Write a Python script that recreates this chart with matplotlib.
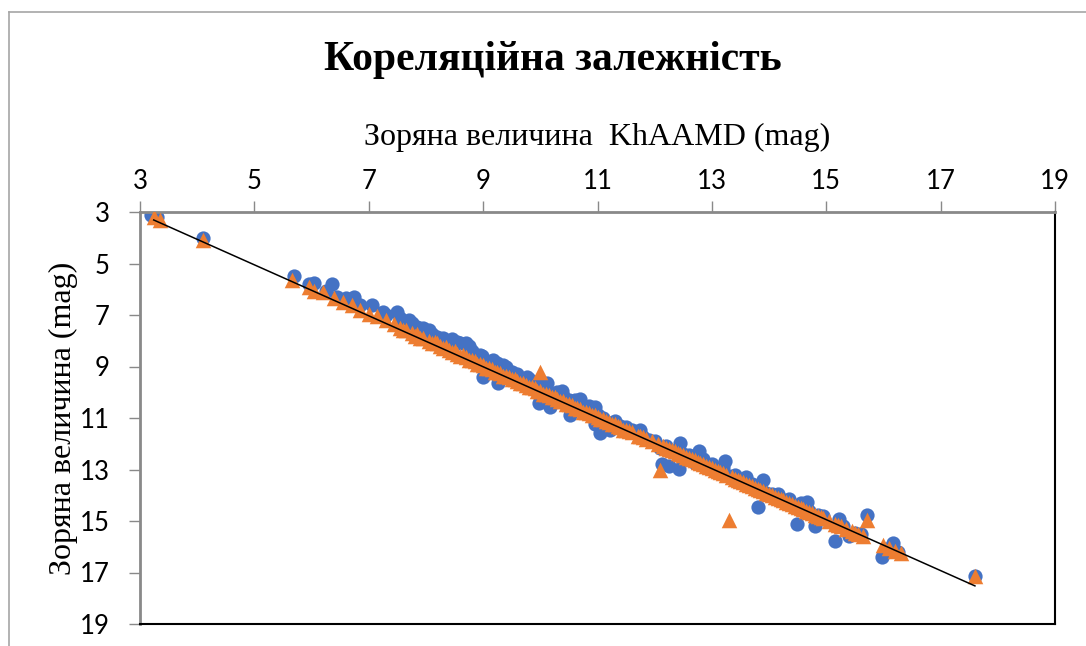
import matplotlib.pyplot as plt
from matplotlib.lines import Line2D

# blue circles (first series)
blue_x = [3.2, 3.3, 4.1, 5.7, 5.95, 6.05, 6.35, 6.25, 6.45, 6.6, 6.75, 6.85, 7.05, 7.25,
          7.3, 7.5, 7.55, 7.7, 7.75, 7.85, 7.95, 8.05, 8.1, 8.2, 8.3, 8.4, 8.45, 8.47, 8.55,
          8.6, 8.7, 8.75, 8.8, 8.85, 8.95, 8.98, 9.0, 9.0, 9.05, 9.1, 9.15, 9.17, 9.2, 9.25,
          9.26, 9.3, 9.35, 9.35, 9.4, 9.5, 9.55, 9.6, 9.7, 9.75, 9.77, 9.8, 9.9, 9.94, 9.95,
          9.98, 10.05, 10.1, 10.12, 10.17, 10.2, 10.3, 10.38, 10.4, 10.5, 10.52, 10.55, 10.6,
          10.69, 10.7, 10.8, 10.85, 10.95, 10.96, 10.96, 11.0, 11.04, 11.1, 11.2, 11.22, 11.3,
          11.4, 11.5, 11.6, 11.7, 11.74, 11.8, 11.9, 12.0, 12.13, 12.25, 12.42, 12.1, 12.2,
          12.3, 12.44, 12.5, 12.6, 12.7, 12.77, 12.85, 12.9, 13.0, 13.1, 13.2, 13.23, 13.3,
          13.4, 13.5, 13.6, 13.7, 13.8, 13.85, 13.89, 13.95, 14.05, 14.15, 14.25, 14.35,
          14.49, 14.45, 14.55, 14.66, 14.7, 14.8, 14.85, 14.95, 15.15, 15.22, 15.3, 15.4,
          15.5, 15.6, 15.71, 15.97, 16.05, 16.17, 16.25, 17.6]
blue_y = [3.1, 3.2, 4.0, 5.5, 5.8, 5.75, 5.8, 6.05, 6.3, 6.35, 6.3, 6.6, 6.6, 6.9,
          7.0, 6.9, 7.1, 7.2, 7.3, 7.45, 7.5, 7.6, 7.75, 7.85, 7.9, 8.0, 7.95, 8.09, 8.05,
          8.1, 8.1, 8.2, 8.4, 8.6, 8.55, 8.59, 8.7, 9.4, 8.9, 9.2, 8.8, 8.75, 9.0, 8.85,
          9.64, 9.1, 9.35, 8.94, 9.0, 9.2, 9.55, 9.3, 9.5, 9.65, 9.41, 9.5, 9.75, 9.6, 9.6,
          10.42, 10.1, 9.9, 9.64, 10.57, 10.3, 10.0, 9.95, 10.15, 10.3, 10.88, 10.6, 10.3,
          10.26, 10.5, 10.65, 10.55, 10.75, 10.57, 11.23, 10.9, 11.58, 11.0, 11.2, 11.47, 11.1,
          11.3, 11.35, 11.45, 11.6, 11.47, 11.75, 11.85, 11.9, 12.79, 12.86, 12.98, 12.15, 12.1,
          12.3, 11.97, 12.4, 12.45, 12.75, 12.28, 12.6, 12.9, 12.8, 13.05, 12.9, 12.67, 13.25,
          13.2, 13.5, 13.3, 13.55, 14.46, 13.65, 13.41, 13.9, 13.95, 13.95, 14.2, 14.15,
          15.12, 14.45, 14.3, 14.26, 14.6, 15.2, 14.75, 14.8, 15.78, 14.92, 15.2, 15.6,
          15.45, 15.5, 14.77, 16.4, 16.1, 15.86, 16.2, 17.15]

# orange triangles (second series)
orange_x = [3.25, 3.35, 4.1, 5.65, 5.95, 6.05, 6.2, 6.4, 6.55, 6.7, 6.85, 7.0, 7.15, 7.3,
            7.45, 7.55, 7.6, 7.65, 7.75, 7.8, 7.85, 7.9, 7.95, 8.05, 8.1, 8.15, 8.2, 8.25,
            8.3, 8.35, 8.4, 8.45, 8.5, 8.55, 8.6, 8.65, 8.7, 8.75, 8.8, 8.85, 8.9, 8.95, 9.0,
            9.05, 9.1, 9.15, 9.2, 9.25, 9.3, 9.35, 9.4, 9.45, 9.5, 9.55, 9.6, 9.65, 9.7, 9.75,
            9.8, 9.85, 9.9, 9.95, 9.99, 10.0, 10.05, 10.1, 10.15, 10.2, 10.25, 10.3, 10.35,
            10.4, 10.45, 10.5, 10.55, 10.6, 10.65, 10.7, 10.75, 10.8, 10.85, 10.9, 10.95,
            11.0, 11.05, 11.1, 11.15, 11.2, 11.25, 11.3, 11.35, 11.4, 11.45, 11.5, 11.55,
            11.6, 11.7, 11.75, 11.8, 11.85, 11.95, 12.05, 12.09, 12.15, 12.2, 12.25, 12.3,
            12.35, 12.4, 12.45, 12.5, 12.55, 12.6, 12.65, 12.7, 12.75, 12.8, 12.85, 12.9,
            12.95, 13.0, 13.05, 13.1, 13.15, 13.2, 13.25, 13.3, 13.35, 13.4, 13.45, 13.5,
            13.55, 13.6, 13.65, 13.7, 13.75, 13.8, 13.85, 13.9, 13.95, 14.0, 14.05, 14.1,
            14.15, 14.2, 14.25, 14.3, 14.35, 14.4, 14.45, 14.5, 14.55, 14.6, 14.65, 14.7,
            14.75, 14.8, 14.85, 14.9, 14.95, 15.05, 15.15, 15.2, 15.25, 15.35, 15.45, 15.5,
            15.55, 15.65, 15.71, 16.0, 16.1, 16.2, 16.3, 17.6]
orange_y = [3.2, 3.3, 4.1, 5.65, 5.9, 6.05, 6.1, 6.35, 6.5, 6.6, 6.8, 6.95, 7.05, 7.2,
            7.35, 7.5, 7.6, 7.6, 7.7, 7.8, 7.75, 7.9, 7.9, 8.0, 8.1, 8.05, 8.1, 8.2,
            8.3, 8.25, 8.35, 8.45, 8.4, 8.5, 8.6, 8.55, 8.65, 8.75, 8.75, 8.8, 8.9, 8.9, 8.95,
            9.05, 9.05, 9.1, 9.2, 9.2, 9.25, 9.35, 9.35, 9.4, 9.5, 9.5, 9.55, 9.65, 9.65, 9.7,
            9.8, 9.8, 9.85, 9.95, 9.21, 9.95, 10.05, 10.05, 10.1, 10.2, 10.2, 10.25, 10.35,
            10.35, 10.45, 10.45, 10.5, 10.6, 10.6, 10.65, 10.75, 10.75, 10.8, 10.9, 10.9,
            10.95, 11.05, 11.05, 11.1, 11.15, 11.25, 11.25, 11.3, 11.35, 11.45, 11.45, 11.5,
            11.55, 11.7, 11.7, 11.75, 11.8, 11.9, 12.0, 13.02, 12.1, 12.15, 12.2, 12.25,
            12.3, 12.35, 12.4, 12.45, 12.5, 12.55, 12.6, 12.65, 12.7, 12.75, 12.8, 12.85,
            12.9, 12.95, 13.0, 13.05, 13.1, 13.15, 13.2, 14.96, 13.3, 13.35, 13.4, 13.45,
            13.5, 13.55, 13.6, 13.65, 13.7, 13.75, 13.8, 13.85, 13.9, 13.95, 14.0, 14.05,
            14.1, 14.15, 14.2, 14.25, 14.3, 14.35, 14.4, 14.45, 14.5, 14.55, 14.6, 14.65,
            14.7, 14.75, 14.8, 14.85, 14.9, 15.0, 15.1, 15.15, 15.2, 15.3, 15.4, 15.45,
            15.5, 15.6, 14.96, 15.95, 16.05, 16.15, 16.25, 17.15]

# trend line end points
line_x = [3.24, 17.6]
line_y = [3.31, 17.52]

fig = plt.figure(figsize=(10.86, 6.46), dpi=100)
ax = fig.add_axes([140 / 1086, 1 - 624 / 646, 915 / 1086, 412 / 646])

ax.scatter(blue_x, blue_y, s=105, marker='o', color='#4472C4', zorder=2, linewidths=0)
ax.scatter(orange_x, orange_y, s=125, marker='^', color='#ED7D31', zorder=3, linewidths=0)
ax.plot(line_x, line_y, color='black', lw=1.1, zorder=4)

ax.set_xlim(3, 19)
ax.set_ylim(19, 3)
ax.set_xticks(range(3, 20, 2))
ax.set_yticks(range(3, 20, 2))
ax.xaxis.tick_top()
ax.xaxis.set_label_position('top')
ax.tick_params(axis='both', direction='out', length=8, width=1, color='#898989',
               labelsize=18.5)
ax.tick_params(axis='x', pad=5)
ax.tick_params(axis='y', pad=14)
for lbl in ax.get_xticklabels() + ax.get_yticklabels():
    lbl.set_fontfamily('Lato')

for side in ['top', 'left']:
    ax.spines[side].set_color('#898989')
    ax.spines[side].set_linewidth(2)
for side in ['right', 'bottom']:
    ax.spines[side].set_color('black')
    ax.spines[side].set_linewidth(1.5)

ax.set_xlabel('Зоряна величина  KhAAMD (mag)', fontfamily='Liberation Serif',
              fontsize=23, labelpad=17)
ax.set_ylabel('Зоряна величина (mag)', fontfamily='Liberation Serif', fontsize=23,
              labelpad=1)
fig.text(553 / 1086, 1 - 60 / 646, 'Кореляційна залежність', ha='center', va='center',
         fontfamily='Liberation Serif', fontweight='bold', fontsize=30)

# outer chart border
fig.add_artist(Line2D([9 / 1086, 9 / 1086], [0, 1 - 12 / 646], color='#a6a6a6', lw=1.2))
fig.add_artist(Line2D([9 / 1086, 1], [1 - 12 / 646, 1 - 12 / 646], color='#a6a6a6', lw=1.2))

fig.savefig('out.png', dpi=100)
